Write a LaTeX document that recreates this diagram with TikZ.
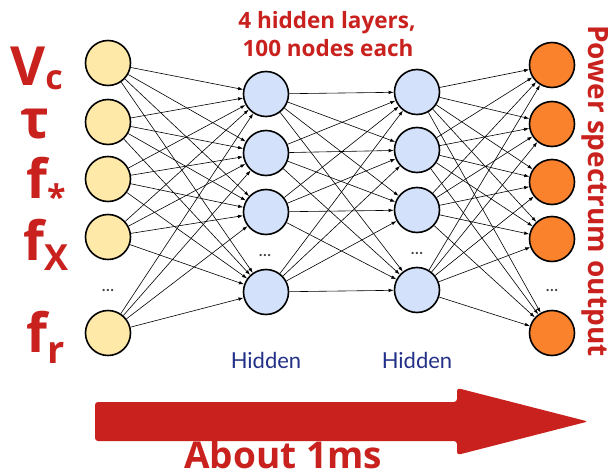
\documentclass[tikz,border=0pt]{standalone}
\usepackage{fontspec}
\setmainfont{Open Sans}
\newfontfamily\latofont{Lato}
\usetikzlibrary{arrows.meta}
\definecolor{inred}{RGB}{201,33,30}
\definecolor{inyellow}{RGB}{255,233,168}
\definecolor{hidblue}{RGB}{211,226,250}
\definecolor{outorange}{RGB}{250,130,44}
\definecolor{navy}{RGB}{34,48,135}
\begin{document}
\begin{tikzpicture}[x=1pt,y=-1pt,
  neuron/.style={circle,draw=black,line width=1.6pt,minimum size=45pt,inner sep=0pt},
  innode/.style={neuron,fill=inyellow},
  hidnode/.style={neuron,fill=hidblue},
  outnode/.style={neuron,fill=outorange},
  edge/.style={line width=0.6pt,-{Latex[length=5pt,width=3.5pt]}},
  redlab/.style={text=inred,inner sep=0pt,anchor=base west},
  hidlab/.style={text=navy,inner sep=0pt,anchor=base,font=\latofont\fontsize{22}{22}\selectfont},
  dotlab/.style={text=black!75,inner sep=0pt,anchor=base,font=\latofont\fontsize{18}{18}\selectfont}
]
\useasboundingbox (0,0) rectangle (611,474);

% input layer
\node[innode] (i1) at (108,63) {};
\node[innode] (i2) at (108,122) {};
\node[innode] (i3) at (108,179) {};
\node[innode] (i4) at (108,237) {};
\node[innode] (i5) at (108,333) {};
% hidden layers
\node[hidnode] (h1) at (266,94) {};
\node[hidnode] (h2) at (266,153) {};
\node[hidnode] (h3) at (266,212) {};
\node[hidnode] (h4) at (266,292) {};
\node[hidnode] (g1) at (417,92) {};
\node[hidnode] (g2) at (417,150) {};
\node[hidnode] (g3) at (417,210) {};
\node[hidnode] (g4) at (417,290) {};
% output layer
\node[outnode] (o1) at (552,65) {};
\node[outnode] (o2) at (552,124) {};
\node[outnode] (o3) at (552,182) {};
\node[outnode] (o4) at (552,239) {};
\node[outnode] (o5) at (552,333) {};

% fully connected weights
\foreach \a in {1,...,5} \foreach \b in {1,...,4} \draw[edge] (i\a) -- (h\b);
\foreach \a in {1,...,4} \foreach \b in {1,...,4} \draw[edge] (h\a) -- (g\b);
\foreach \a in {1,...,4} \foreach \b in {1,...,5} \draw[edge] (g\a) -- (o\b);

% ellipses for omitted nodes
\node[dotlab] (d1) at (108,291) {...};
\node[dotlab] (d2) at (265,256) {...};
\node[dotlab] (d3) at (417,254) {...};
\node[dotlab] (d4) at (552,291) {...};

% input parameter names
\node[redlab] (lv) at (10,85) {\bfseries\fontsize{54}{54}\selectfont V\raisebox{-4pt}{\fontsize{34}{34}\selectfont c}};
\node[redlab] (lt) at (20,138) {\bfseries\fontsize{54}{54}\selectfont τ};
\node[redlab] (ls) at (26,198) {\bfseries\fontsize{54}{54}\selectfont f\raisebox{-11pt}{\fontsize{34}{34}\selectfont *}};
\node[redlab] (lx) at (23,260) {\bfseries\fontsize{54}{54}\selectfont f\raisebox{-10pt}{\fontsize{36}{36}\selectfont X}};
\node[redlab] (lr) at (26,352) {\bfseries\fontsize{54}{54}\selectfont f\raisebox{-11pt}{\fontsize{38}{38}\selectfont r}};

% annotations
\node[redlab,anchor=base] (t1) at (327,28) {\bfseries\fontsize{22.5}{22.5}\selectfont 4 hidden layers,};
\node[redlab,anchor=base] (t2) at (328,56) {\bfseries\fontsize{22.5}{22.5}\selectfont 100 nodes each};
\node[redlab,anchor=base,rotate=-90] (pso) at (588,191) {\bfseries\fontsize{28}{28}\selectfont Power spectrum output};
\node[hidlab] (hl1) at (266,368) {Hidden};
\node[hidlab] (hl2) at (417,368) {Hidden};

% evaluation-time arrow
\fill[inred,rounded corners=3pt] (95,402) -- (457,402) -- (457,388) -- (588,421.5)
  -- (457,455) -- (457,441) -- (95,441) -- cycle;
\node[redlab] (ms) at (184,468) {\bfseries\fontsize{37}{37}\selectfont About 1ms};
\end{tikzpicture}
\end{document}
